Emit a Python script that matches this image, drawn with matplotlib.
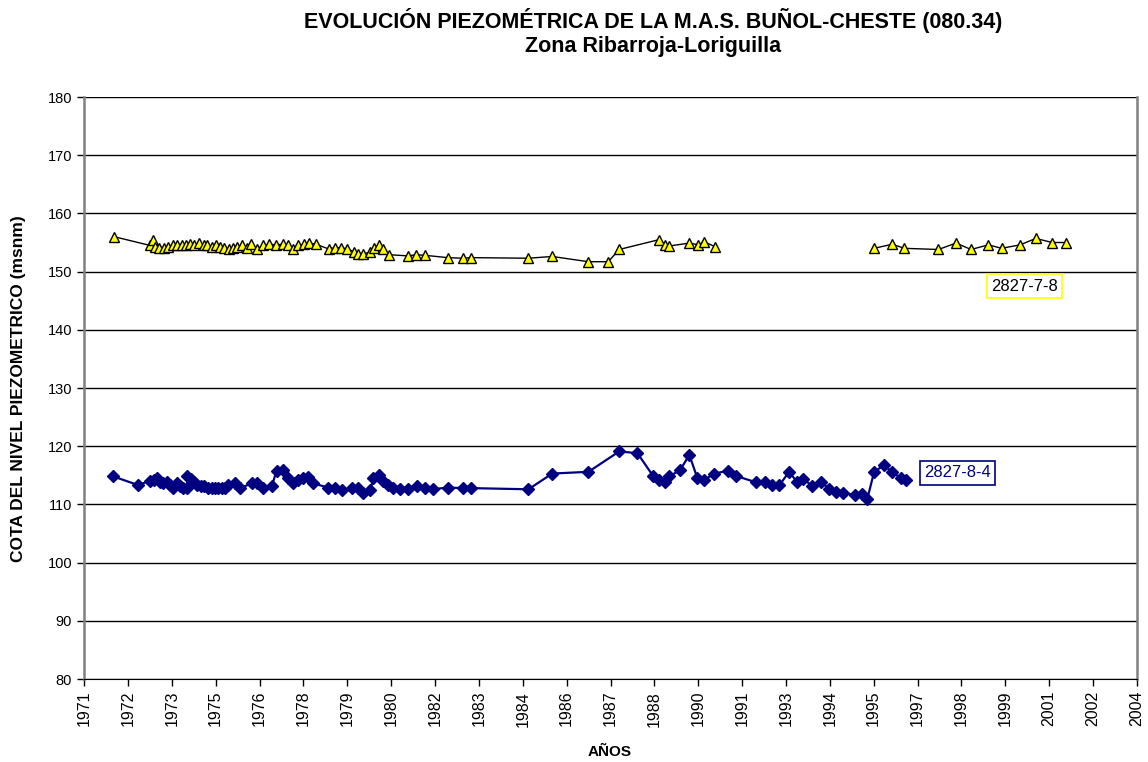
import numpy as np
import matplotlib
matplotlib.use("Agg")
import matplotlib.pyplot as plt
from matplotlib.ticker import FixedLocator, FuncFormatter

plt.rcParams['font.family'] = ['Liberation Sans', 'DejaVu Sans']

# data (decimal years, m a.s.l.)
anio_778 = [1972.10, 1973.22, 1973.30, 1973.38, 1973.51, 1973.66, 1973.79, 1973.93,
            1974.07, 1974.21, 1974.34, 1974.47, 1974.59, 1974.76, 1974.89, 1975.01,
            1975.15, 1975.28, 1975.41, 1975.53, 1975.67, 1975.82, 1975.95, 1976.08,
            1976.24, 1976.36, 1976.55, 1976.76, 1976.94, 1977.15, 1977.36, 1977.54,
            1977.67, 1977.85, 1978.03, 1978.19, 1978.40, 1978.79, 1978.99, 1979.17,
            1979.38, 1979.59, 1979.72, 1979.88, 1980.09, 1980.21, 1980.35, 1980.50,
            1980.69, 1981.28, 1981.52, 1981.80, 1982.51, 1982.98, 1983.23, 1985.03,
            1985.77, 1986.90, 1987.52, 1987.86, 1989.11, 1989.29, 1989.42, 1990.05,
            1990.33, 1990.51, 1990.85, np.nan,
            1995.81, 1996.38, 1996.76, 1997.82, 1998.37, 1998.84, 1999.38, 1999.79,
            2000.37, 2000.86, 2001.37, 2001.79]
cota_778 = [156.0, 154.5, 155.4, 154.3, 154.1, 154.0, 154.3, 154.5,
            154.6, 154.5, 154.6, 154.7, 154.5, 154.9, 154.6, 154.5,
            154.3, 154.5, 154.3, 154.1, 153.9, 154.0, 154.3, 154.5,
            154.1, 154.7, 153.9, 154.5, 154.7, 154.6, 154.7, 154.5,
            153.9, 154.5, 154.7, 154.9, 154.7, 153.9, 154.1, 154.1,
            153.9, 153.4, 153.1, 153.0, 153.4, 154.0, 154.5, 153.9,
            152.9, 152.7, 152.9, 152.8, 152.4, 152.3, 152.4, 152.3,
            152.6, 151.7, 151.7, 153.8, 155.5, 154.6, 154.4, 154.9,
            154.6, 155.1, 154.3, np.nan,
            154.0, 154.7, 154.0, 153.8, 154.9, 153.8, 154.6, 154.0,
            154.6, 155.7, 155.0, 155.0]

anio_784 = [1972.08, 1972.86, 1973.22, 1973.33, 1973.43, 1973.53, 1973.64, 1973.74,
            1973.85, 1973.95, 1974.05, 1974.16, 1974.26, 1974.37, 1974.39, 1974.49,
            1974.59, 1974.70, 1974.80, 1974.91, 1975.04, 1975.15, 1975.25, 1975.35,
            1975.46, 1975.56, 1975.66, 1975.87, 1976.03, 1976.39, 1976.55, 1976.76,
            1977.02, 1977.17, 1977.38, 1977.54, 1977.69, 1977.85, 1978.00, 1978.16,
            1978.32, 1978.78, 1978.99, 1979.20, 1979.51, 1979.72, 1979.88, 1980.09,
            1980.19, 1980.35, 1980.50, 1980.66, 1980.81, 1981.02, 1981.28, 1981.54,
            1981.80, 1982.04, 1982.51, 1982.98, 1983.23, 1985.03, 1985.77, 1986.90,
            1987.86, 1988.43, 1988.93, 1989.11, 1989.29, 1989.42, 1989.76, 1990.05,
            1990.30, 1990.51, 1990.83, 1991.27, 1991.50, 1992.13, 1992.41, 1992.62,
            1992.86, 1993.16, 1993.42, 1993.61, 1993.87, 1994.16, 1994.42, 1994.62,
            1994.85, 1995.22, 1995.43, 1995.60, 1995.81, 1996.12, 1996.38, 1996.64,
            1996.80]
cota_784 = [114.8, 113.3, 114.1, 114.2, 114.5, 113.9, 113.6, 113.9,
            113.3, 112.8, 113.6, 113.1, 112.8, 112.9, 114.8, 114.3,
            113.9, 113.3, 113.2, 113.1, 112.9, 112.9, 112.8, 112.9,
            112.8, 112.9, 113.3, 113.6, 112.8, 113.6, 113.6, 112.9,
            113.1, 115.8, 115.9, 114.5, 113.6, 114.2, 114.5, 114.7,
            113.6, 112.9, 112.9, 112.5, 112.8, 112.8, 111.9, 112.4,
            114.5, 115.0, 114.1, 113.3, 112.9, 112.6, 112.6, 113.1,
            112.8, 112.6, 112.9, 112.8, 112.8, 112.6, 115.3, 115.6,
            119.1, 118.8, 114.8, 114.2, 113.9, 114.8, 115.9, 118.5,
            114.5, 114.2, 115.3, 115.8, 114.9, 113.8, 113.8, 113.3,
            113.3, 115.6, 113.8, 114.4, 113.2, 113.9, 112.6, 112.2,
            112.0, 111.6, 111.8, 110.9, 115.5, 116.8, 115.5, 114.6,
            114.2]

# date axis: starts 1 March 1971, major unit 500 days
eje_inicio = 1971.162
paso = 500 / 365.25
xticks = eje_inicio + paso * np.arange(25)

fig = plt.figure(figsize=(11.48, 7.62), dpi=100, facecolor='white')
ax = fig.add_axes([0.0732, 0.1089, 0.9172, 0.7638])

ax.plot(anio_778, cota_778, color='black', lw=1.0, marker='^', ms=7.5,
        mfc='#FFFF00', mec='black', mew=1.0, zorder=3)
ax.plot(anio_784, cota_784, color='#000080', lw=1.6, marker='D', ms=6.3,
        mfc='#000080', mec='#000080', zorder=3)

ax.set_xlim(xticks[0], xticks[-1])
ax.set_ylim(80, 180)
ax.set_yticks(np.arange(80, 181, 10))
ax.xaxis.set_major_locator(FixedLocator(xticks))
ax.xaxis.set_major_formatter(FuncFormatter(lambda v, p: str(int(np.floor(v + 1e-6)))))
ax.tick_params(axis='x', labelrotation=90, labelsize=11.5, length=5, direction='out', width=1)
ax.tick_params(axis='y', labelsize=10.5, length=5, direction='out', width=1)

ax.grid(axis='y', color='black', lw=1.0)
ax.set_axisbelow(True)
ax.spines['top'].set_visible(False)
ax.spines['bottom'].set_color('black')
ax.spines['left'].set_color('#808080')
ax.spines['left'].set_linewidth(1.8)
ax.spines['right'].set_color('#808080')
ax.spines['right'].set_linewidth(1.8)

# etiquetas de los piezometros
ax.text(2000.52, 147.5, '2827-7-8', ha='center', va='center', fontsize=12,
        family=['Liberation Sans Narrow', 'Liberation Sans'], color='black',
        bbox=dict(boxstyle='square,pad=0.25', fc='white', ec='#FFFF00', lw=1.2))
ax.text(1998.43, 115.4, '2827-8-4', ha='center', va='center', fontsize=12,
        family=['Liberation Sans Narrow', 'Liberation Sans'], color='#000080',
        bbox=dict(boxstyle='square,pad=0.25', fc='white', ec='#000080', lw=1.2))

fig.text(0.569, 0.973, 'EVOLUCIÓN PIEZOMÉTRICA DE LA M.A.S. BUÑOL-CHESTE (080.34)',
         ha='center', va='center', fontsize=15.5, fontweight='bold')
fig.text(0.569, 0.939, 'Zona Ribarroja-Loriguilla', ha='center', va='center',
         fontsize=15.5, fontweight='bold')
fig.text(0.531, 0.013, 'AÑOS', ha='center', va='center', fontsize=11, fontweight='bold')
fig.text(0.016, 0.49, 'COTA DEL NIVEL PIEZOMETRICO (msnm)', ha='center', va='center',
         rotation=90, fontsize=12.5, fontweight='bold')

fig.savefig('out.png', dpi=100, facecolor='white')
